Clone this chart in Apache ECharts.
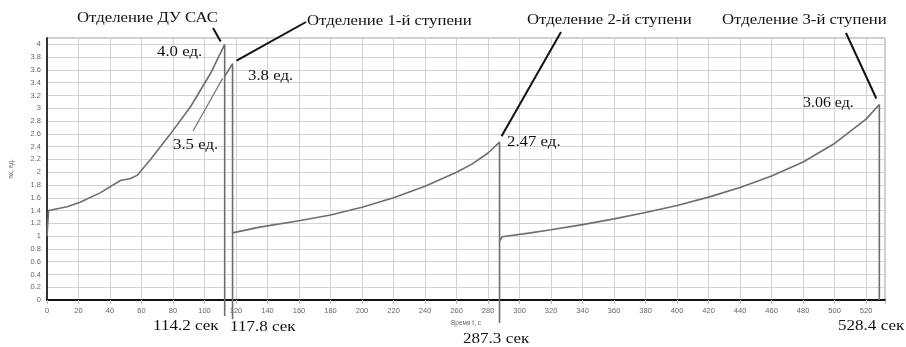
<!DOCTYPE html>
<html><head><meta charset="utf-8">
<script src="https://cdn.jsdelivr.net/npm/echarts@6/dist/echarts.min.js"></script>
<style>html,body{margin:0;padding:0;background:#fff}#c{width:906px;height:347px}</style>
</head><body><div id="c"></div>
<script>
// --- data (time, s / overload, ед.) ---
const stage0Time  = [0, 1, 12.8, 21, 34, 46.6, 53, 57.2, 65.7, 78.4, 91, 103.7, 112.8, 112.8];
const stage0Value = [1.0, 1.4, 1.46, 1.53, 1.68, 1.87, 1.9, 1.95, 2.2, 2.6, 3.02, 3.54, 4.0, -0.25];
const stage1Time  = [112.8, 117.8, 117.8];
const stage1Value = [3.5, 3.7, -0.3];
const stage2Time  = [117.8, 135, 160, 180, 200, 220, 240, 260, 270, 280, 287.3, 287.3];
const stage2Value = [1.05, 1.14, 1.24, 1.33, 1.45, 1.6, 1.78, 2.0, 2.13, 2.3, 2.47, -0.36];
const stage3Time  = [287.3, 289, 307, 320, 340, 360, 380, 400, 420, 440, 460, 480, 500, 520, 528.4, 528.4];
const stage3Value = [0.92, 0.99, 1.05, 1.1, 1.18, 1.27, 1.37, 1.48, 1.61, 1.76, 1.94, 2.16, 2.45, 2.83, 3.06, 0];

const xMin = 0, xMax = 532, xStep = 20;
const yMin = 0, yMax = 4.1, yStep = 0.2;
const xAxisTitle = 'Время t, с';
const yAxisTitle = 'nx, ед.';

const eventTitles = ['Отделение ДУ САС', 'Отделение 1-й ступени', 'Отделение 2-й ступени', 'Отделение 3-й ступени'];
const valueLabels = ['4.0 ед.', '3.5 ед.', '3.8 ед.', '2.47 ед.', '3.06 ед.'];
const timeLabels  = ['114.2 сек', '117.8 сек', '287.3 сек', '528.4 сек'];

function pairs(t, v) { return t.map((x, i) => [x, v[i]]); }

const chart = echarts.init(document.getElementById('c'), null, {renderer: 'canvas'});
const lineStyle = {color: '#6e6e6e', width: 1.6};
function mk(t, v) {
  return {type: 'line', data: pairs(t, v), symbol: 'none', clip: false, lineStyle: lineStyle, animation: false, silent: true};
}
const tickFont = {fontFamily: 'Liberation Sans', fontSize: 7.5, color: '#666'};
chart.setOption({
  animation: false,
  grid: {left: 46.5, top: 38, width: 838.5, height: 262, show: true, borderColor: '#9a9a9a', borderWidth: 1},
  xAxis: {
    type: 'value', min: xMin, max: xMax, interval: xStep,
    name: xAxisTitle, nameLocation: 'middle', nameGap: 20,
    nameTextStyle: {fontFamily: 'Liberation Sans', fontSize: 6.5, color: '#666'},
    axisLine: {lineStyle: {color: '#111', width: 2}},
    axisTick: {show: true, length: 4, lineStyle: {color: '#bbb'}},
    axisLabel: Object.assign({margin: 7, formatter: v => (Math.abs(v / xStep - Math.round(v / xStep)) < 1e-6 ? String(v) : '')}, tickFont),
    splitLine: {show: true, lineStyle: {color: '#d2d2d2', width: 1}}
  },
  yAxis: {
    type: 'value', min: yMin, max: yMax, interval: yStep,
    name: yAxisTitle, nameLocation: 'middle', nameGap: 32,
    nameTextStyle: {fontFamily: 'Liberation Sans', fontSize: 6.5, color: '#666'},
    axisLine: {show: true, lineStyle: {color: '#333', width: 2}},
    axisTick: {show: false},
    axisLabel: Object.assign({margin: 6, formatter: v => (Math.abs(v / yStep - Math.round(v / yStep)) < 1e-6 && v <= 4.0001 ? String(+v.toFixed(1)) : '')}, tickFont),
    splitLine: {show: true, lineStyle: {color: '#d2d2d2', width: 1}}
  },
  series: [mk(stage0Time, stage0Value), mk(stage1Time, stage1Value), mk(stage2Time, stage2Value), mk(stage3Time, stage3Value)]
});

function px(t, v) { return chart.convertToPixel({gridIndex: 0}, [t, v]); }
const serif = 'Liberation Serif';
function txt(s, x, y, size, sx) {
  return {type: 'text', x: x, y: y, scaleX: sx, silent: true,
    style: {text: s, fill: '#111', font: size + 'px "' + serif + '"', textAlign: 'left', textVerticalAlign: 'middle'}};
}
function seg(a, b, w, c) {
  return {type: 'line', silent: true, shape: {x1: a[0], y1: a[1], x2: b[0], y2: b[1]}, style: {stroke: c || '#111', lineWidth: w || 2}};
}
const p0 = px(stage0Time[12], stage0Value[12]);
const p1 = px(stage1Time[1], stage1Value[1]);
const p15 = px(stage1Time[0], stage1Value[0]);
const p2 = px(stage2Time[10], stage2Value[10]);
const p3 = px(stage3Time[14], stage3Value[14]);
chart.setOption({graphic: [
  txt(eventTitles[0], 77, 18, 15.5, 1.08),
  txt(eventTitles[1], 307, 21, 15.5, 1.08),
  txt(eventTitles[2], 527, 20, 15.5, 1.08),
  txt(eventTitles[3], 722, 20, 15.5, 1.08),
  seg([213, 28], [p0[0] - 4, p0[1] - 3], 2),
  seg([306, 22], [p1[0] + 4, p1[1] - 3], 2),
  seg([561, 32], [p2[0] + 2, p2[1] - 6], 2),
  seg([846, 33], [p3[0] - 3, p3[1] - 6], 2),
  seg([193, 131], [p15[0] - 2, p15[1] + 2], 1.2, '#777'),
  txt(valueLabels[0], 157, 52, 15, 1.12),
  txt(valueLabels[1], 173, 145, 15, 1.12),
  txt(valueLabels[2], 248, 76, 15, 1.12),
  txt(valueLabels[3], 507, 142, 15, 1.12),
  txt(valueLabels[4], 803, 103, 15, 1.06),
  txt(timeLabels[0], 153, 326, 15.5, 1.1),
  txt(timeLabels[1], 230, 327, 15.5, 1.1),
  txt(timeLabels[2], 463, 339, 15.5, 1.1),
  txt(timeLabels[3], 838, 326, 15.5, 1.1)
]});
</script></body></html>
